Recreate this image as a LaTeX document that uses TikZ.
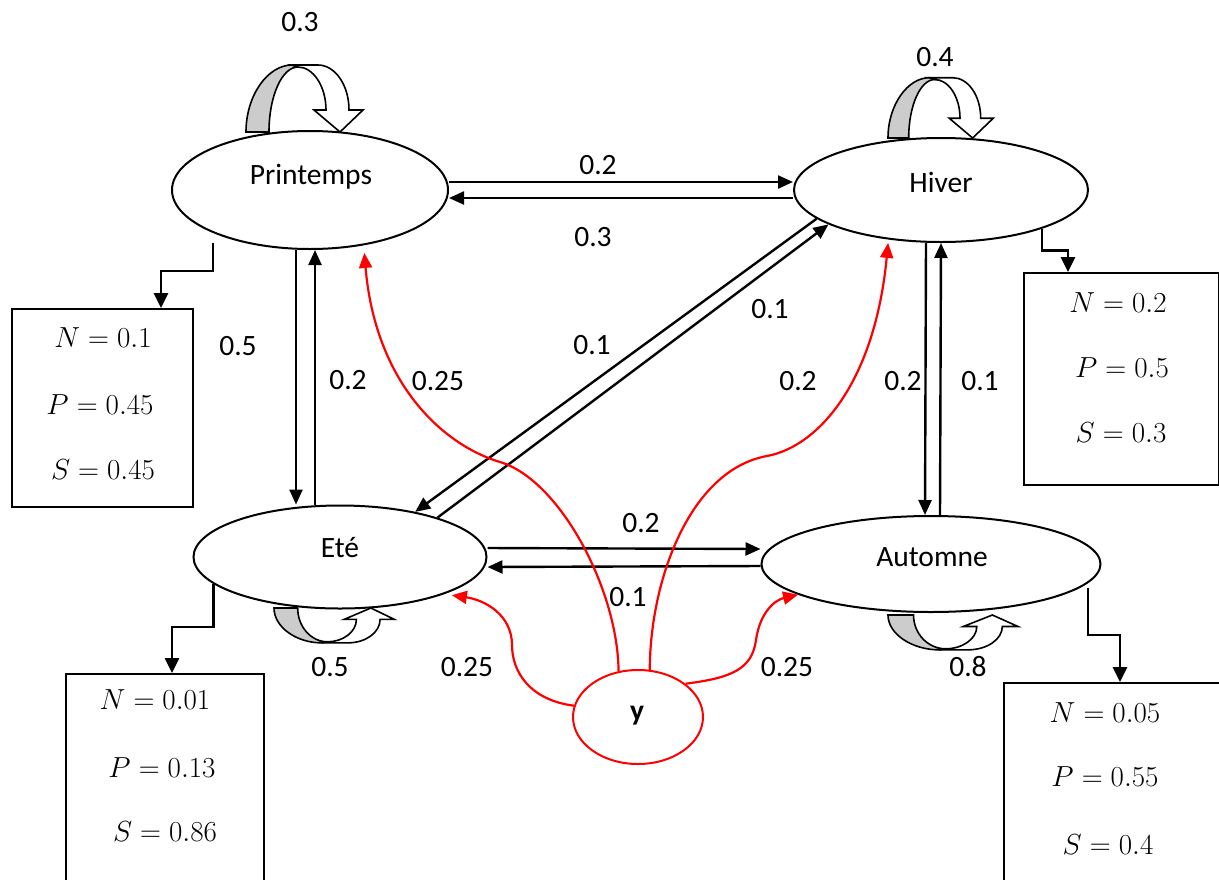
\RequirePackage{fix-cm}
\documentclass[tikz,border=0pt]{standalone}
\usepackage{fontspec}
\setmainfont{Carlito}
\usetikzlibrary{shapes.geometric, arrows.meta}
\newcommand\myloop[4]{%
\begin{scope}[shift={(#1,#2)}, xscale=#3, yscale=#4]
\filldraw[loopgray] (0,0) .. controls (0,-37) and (22,-67) .. (46,-67) -- (52,-65) .. controls (36,-65) and (23,-36) .. (23,0) -- cycle;
\filldraw[loopwhite] (46,-67) -- (72,-67) .. controls (89,-67) and (103,-47) .. (103,-22) -- (117,-22) -- (94,0) -- (68,-22) -- (80,-22) .. controls (80,-46) and (67,-65) .. (52,-65) -- cycle;
\end{scope}}
\begin{document}
\begin{tikzpicture}[x=1pt, y=-1pt, font=\fontsize{29.5}{34}\selectfont,
  state/.style={ellipse, draw, line width=2pt, inner sep=0pt},
  lbl/.style={inner sep=0pt},
  mlbl/.style={inner sep=0pt, font=\fontsize{29}{34}\selectfont},
  arr/.style={line width=2.4pt, -{Triangle[length=15pt,width=13pt]}},
  redarr/.style={red, line width=2.2pt, -{Triangle[length=15pt,width=13pt]}},
  elbow/.style={line width=2.8pt, -{Triangle[length=15pt,width=14pt]}},
  box/.style={draw, line width=2pt, rectangle, inner sep=0pt, anchor=north west},
  loopgray/.style={fill=gray!40, draw, line width=1.6pt},
  loopwhite/.style={fill=white, draw, line width=1.6pt}]
\useasboundingbox (0,0) rectangle (1219,879);
\fill[white] (0,0) rectangle (1219,879);

% states
\node[state, minimum width=276pt, minimum height=118pt] (P) at (310,190) {};
\node[state, minimum width=294pt, minimum height=104pt] (H) at (941,190) {};
\node[state, minimum width=293pt, minimum height=103pt] (E) at (340,557) {};
\node[state, minimum width=339pt, minimum height=96pt] (A) at (931,564) {};
\node[state, draw=red, minimum width=130pt, minimum height=94pt] (Y) at (638,717) {};
\node[lbl] (tP) at (311,177) {Printemps};
\node[lbl] (tH) at (941,182) {Hiver};
\node[lbl] (tE) at (340,548) {Eté};
\node[lbl] (tA) at (932,557) {Automne};
\node[lbl] (tY) at (637,716) {\bfseries y};

% boxes
\node[box, minimum width=181pt, minimum height=198pt] (B1) at (11,308) {};
\node[box, minimum width=195pt, minimum height=212pt] (B2) at (1023,272) {};
\node[box, minimum width=198pt, minimum height=240pt] (B3) at (65,673) {};
\node[box, minimum width=230pt, minimum height=230pt] (B4) at (1003,682) {};
\node[mlbl] (b1n) at (103,338) {$N=0.1$};
\node[mlbl] (b1p) at (100,405) {$P=0.45$};
\node[mlbl] (b1s) at (103,470) {$S=0.45$};
\node[mlbl] (b2n) at (1118,303) {$N=0.2$};
\node[mlbl] (b2p) at (1122,368) {$P=0.5$};
\node[mlbl] (b2s) at (1121,433) {$S=0.3$};
\node[mlbl] (b3n) at (155,700) {$N=0.01$};
\node[mlbl] (b3p) at (162,768) {$P=0.13$};
\node[mlbl] (b3s) at (165,832) {$S=0.86$};
\node[mlbl] (b4n) at (1105,713) {$N=0.05$};
\node[mlbl] (b4p) at (1105,777) {$P=0.55$};
\node[mlbl] (b4s) at (1108,845) {$S=0.4$};

% self loops
\myloop{246}{132}{1}{1}
\myloop{888}{138}{0.9}{0.9}
\myloop{274}{608}{1.03}{-0.52}
\myloop{888}{615}{1.11}{-0.52}

% transitions
\draw[arr] ([yshift=8pt]P.east) -- ([yshift=8pt]H.west);
\draw[arr] ([yshift=-8pt]H.west) -- ([yshift=-8pt]P.east);
\draw[arr] ([xshift=-14pt]P.south) -- ([xshift=-44pt]E.north);
\draw[arr] ([xshift=-25pt]E.north) -- ([xshift=5pt]P.south);
\draw[arr] ([xshift=-15pt]H.south) -- ([xshift=-6pt]A.north);
\draw[arr] ([xshift=9pt]A.north) -- (H.south);
\draw[arr] ([yshift=9pt]E.east) -- ([yshift=15pt]A.west);
\draw[arr] ([yshift=-2pt]A.west) -- ([yshift=-10pt]E.east);
\draw[arr] (H.193) -- (E.31);
\draw[arr] (E.22) -- (H.197);

% red
\draw[redarr] (Y.113) .. controls (618,590) and (560,480) .. (500,462) .. controls (440,444) and (375,380) .. ([shift={(4pt,-7pt)}]P.-48);
\draw[redarr] (Y.76) .. controls (650,580) and (690,470) .. (767,456) .. controls (820,446) and (875,380) .. ([shift={(-3pt,-3pt)}]H.225);
\draw[redarr] (Y.170) .. controls (530,700) and (512,672) .. (512,645) .. controls (512,615) and (485,600) .. ([yshift=-4pt]E.-17);
\draw[redarr] (Y.35) .. controls (730,678) and (752,670) .. (756,640) .. controls (760,612) and (775,600) .. (A.193);

% elbows
\draw[elbow] ([xshift=-97pt,yshift=7pt]P.south) -- ++(0,28) -| ([xshift=150pt]B1.north west);
\draw[elbow] (H.-21) -- ++(0,22) -| ([xshift=45pt]B2.north west);
\draw[elbow] (E.192) -- ++(0,43) -| ([xshift=107pt]B3.north west);
\draw[elbow] ([xshift=157pt,yshift=25pt]A.south) -- ++(0,47) -| ([xshift=117pt]B4.north west);

% labels
\node[lbl] (l1) at (300,22) {0.3};
\node[lbl] (l2) at (935,57) {0.4};
\node[lbl] (l3) at (330,667) {0.5};
\node[lbl] (l4) at (968,667) {0.8};
\node[lbl] (l5) at (598,165) {0.2};
\node[lbl] (l6) at (593,237) {0.3};
\node[lbl] (l7) at (238,346) {0.5};
\node[lbl] (l8) at (348,380) {0.2};
\node[lbl] (l9) at (438,381) {0.25};
\node[lbl] (l10) at (592,345) {0.1};
\node[lbl] (l11) at (770,309) {0.1};
\node[lbl] (l12) at (798,381) {0.2};
\node[lbl] (l13) at (903,381) {0.2};
\node[lbl] (l14) at (980,381) {0.1};
\node[lbl] (l15) at (641,523) {0.2};
\node[lbl] (l16) at (628,597) {0.1};
\node[lbl] (l17) at (467,667) {0.25};
\node[lbl] (l18) at (787,667) {0.25};
\end{tikzpicture}
\end{document}
